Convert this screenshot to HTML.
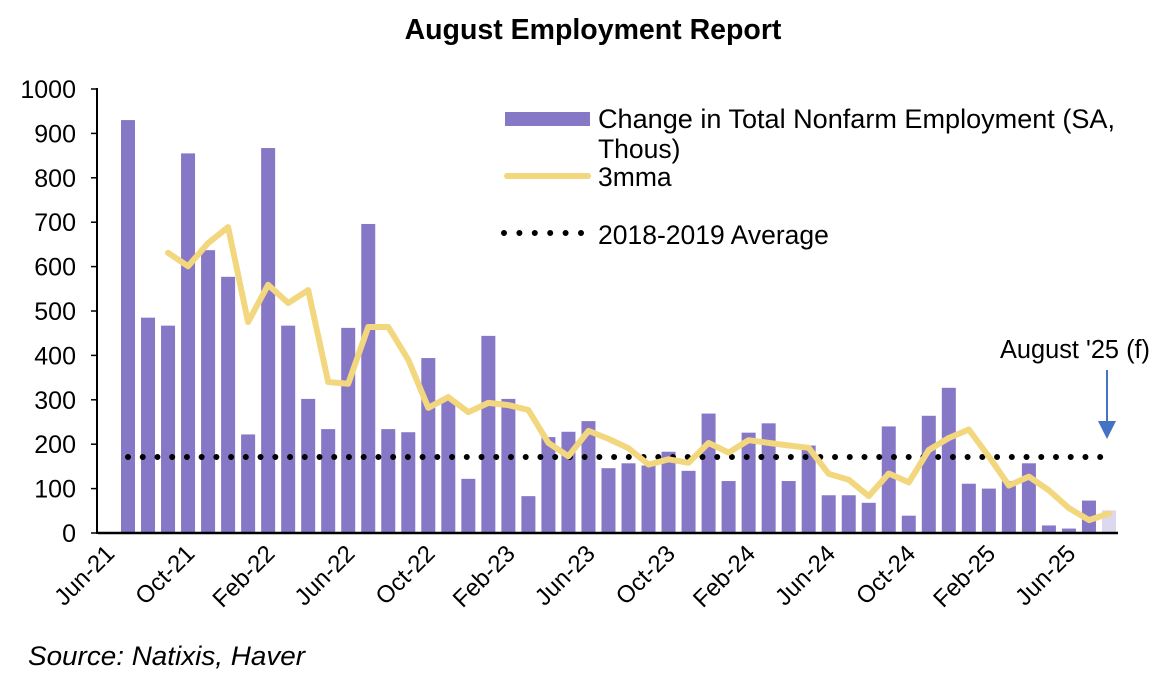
<!DOCTYPE html>
<html><head><meta charset="utf-8"><style>
html,body{margin:0;padding:0;background:#fff;}
svg{display:block;font-family:"Liberation Sans",Arial,sans-serif;}
</style></head><body>
<svg width="1170" height="682" viewBox="0 0 1170 682" xmlns="http://www.w3.org/2000/svg">
<text x="593" y="39" text-anchor="middle" font-size="28.5" font-weight="bold">August Employment Report</text>
<g id="bars" fill="#8678c6"></g>
<line x1="98" y1="533" x2="1118" y2="533" stroke="#000" stroke-width="2.5"/>
<line x1="97" y1="88" x2="97" y2="534" stroke="#000" stroke-width="2"/>
<g id="yt" font-size="25" text-anchor="end"></g>
<g id="xl" font-size="24" text-anchor="end"></g>
<line x1="128" y1="457" x2="1110" y2="457" stroke="#000" stroke-width="6" stroke-linecap="round" stroke-dasharray="0 14.73"/>
<polyline id="ma" fill="none" stroke="#f3d77e" stroke-width="6" stroke-linejoin="round" stroke-linecap="round"/>
<rect x="505" y="112" width="85" height="14" fill="#8678c6"/>
<text x="598" y="128" font-size="26.5" textLength="517" lengthAdjust="spacingAndGlyphs">Change in Total Nonfarm Employment (SA,</text>
<text x="598" y="158" font-size="26.5">Thous)</text>
<line x1="507" y1="176" x2="588" y2="176" stroke="#f3d77e" stroke-width="6" stroke-linecap="round"/>
<text x="598" y="186" font-size="26.5">3mma</text>
<line x1="504" y1="233" x2="582" y2="233" stroke="#000" stroke-width="6" stroke-linecap="round" stroke-dasharray="0 15.4"/>
<text x="598" y="244" font-size="26.5">2018-2019 Average</text>
<text x="1000" y="358" font-size="25.5" textLength="150" lengthAdjust="spacingAndGlyphs">August '25 (f)</text>
<line x1="1107" y1="370" x2="1107" y2="424" stroke="#4472c4" stroke-width="2"/>
<polygon points="1098,421 1116,421 1107,439" fill="#4472c4"/>
<text x="28" y="665" font-size="27" font-style="italic" textLength="277" lengthAdjust="spacingAndGlyphs">Source: Natixis, Haver</text>
</svg>
<script>
var v=[930,485,467,855,637,577,222,867,467,302,234,462,696,234,227,394,300,122,444,302,83,216,228,252,146,157,152,183,140,269,117,226,247,117,197,85,85,68,240,39,264,327,111,100,117,157,17,10,73,51];
var ma=[null,null,631,601,653,689,475,559,518,547,340,336,464,464,390,282,306,272,293,288,277,203,173,230,212,191,154,166,158,203,181,209,203,197,192,133,120,83,134,114,187,214,233,172,107,127,96,56,29,44];
var ns="http://www.w3.org/2000/svg";
function Y(x){return 533-x*0.444;}
function X(i){return 128+i*20.02;}
var b=document.getElementById("bars");
v.forEach(function(d,i){var r=document.createElementNS(ns,"rect");r.setAttribute("x",X(i)-7);r.setAttribute("width",14);r.setAttribute("y",Y(d));r.setAttribute("height",533-Y(d));if(i==49)r.setAttribute("fill","#dcd8ef");b.appendChild(r);});
var p=[];ma.forEach(function(d,i){if(d!==null)p.push(X(i).toFixed(1)+","+Y(d).toFixed(1));});
document.getElementById("ma").setAttribute("points",p.join(" "));
var yt=document.getElementById("yt");
for(var k=0;k<=10;k++){var y=Y(k*100);var t=document.createElementNS(ns,"text");t.setAttribute("x",76);t.setAttribute("y",y+9);t.textContent=k*100;yt.appendChild(t);
var l=document.createElementNS(ns,"line");l.setAttribute("x1",91);l.setAttribute("x2",97);l.setAttribute("y1",y);l.setAttribute("y2",y);l.setAttribute("stroke","#000");l.setAttribute("stroke-width",1.5);yt.appendChild(l);}
var labs=["Jun-21","Oct-21","Feb-22","Jun-22","Oct-22","Feb-23","Jun-23","Oct-23","Feb-24","Jun-24","Oct-24","Feb-25","Jun-25"];
var xl=document.getElementById("xl");
labs.forEach(function(s,j){var x=X(j*4)-12,y=555;var t=document.createElementNS(ns,"text");t.setAttribute("x",x);t.setAttribute("y",y);t.setAttribute("transform","rotate(-45 "+x+" "+y+")");t.textContent=s;xl.appendChild(t);});
</script>
</body></html>
